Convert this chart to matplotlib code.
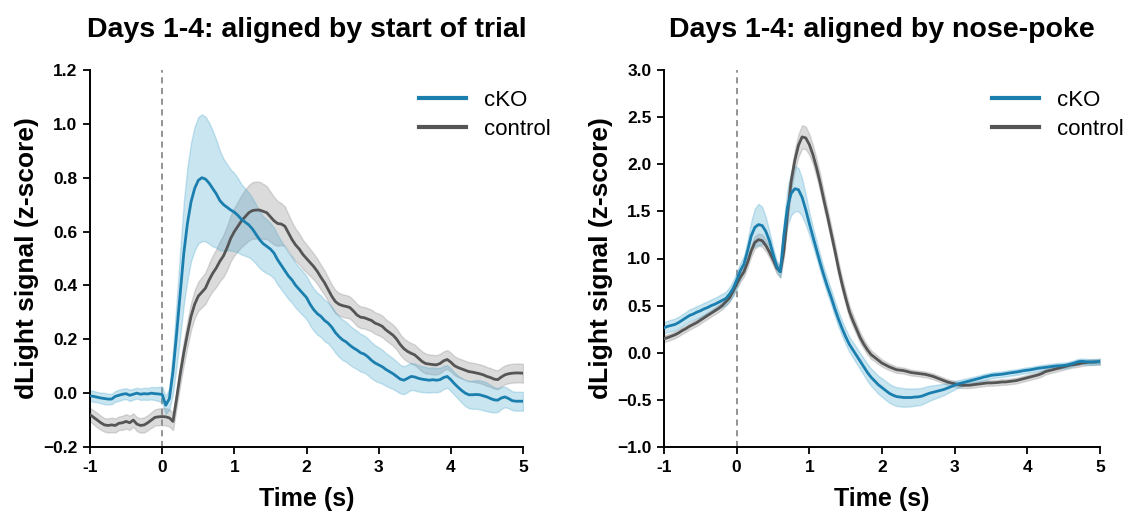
import numpy as np
import matplotlib
matplotlib.use("Agg")
import matplotlib.pyplot as plt

plt.rcParams["font.family"] = ["Liberation Sans", "DejaVu Sans"]

# Shared time base (s), 50 ms bins from -1 to 5
time_s = np.linspace(-1.0, 5.0, 121)

# ---- Aligned by start of trial ----
trial_cko_mean = [
    -0.010, -0.012, -0.015, -0.018, -0.020, -0.022, -0.022, -0.012, -0.008, -0.004,
    -0.002, -0.008, -0.004, 0.000, -0.004, -0.002, -0.003, 0.000, -0.002, -0.003,
    -0.005, -0.045, -0.020, 0.080, 0.220, 0.370, 0.520, 0.630, 0.710, 0.760,
    0.790, 0.800, 0.795, 0.780, 0.760, 0.740, 0.715, 0.700, 0.690, 0.680,
    0.672, 0.660, 0.645, 0.635, 0.625, 0.610, 0.590, 0.570, 0.555, 0.545,
    0.535, 0.520, 0.495, 0.475, 0.455, 0.435, 0.420, 0.400, 0.385, 0.370,
    0.355, 0.330, 0.310, 0.295, 0.285, 0.270, 0.260, 0.245, 0.225, 0.210,
    0.198, 0.190, 0.178, 0.168, 0.160, 0.150, 0.145, 0.135, 0.122, 0.112,
    0.105, 0.098, 0.088, 0.080, 0.072, 0.062, 0.052, 0.048, 0.055, 0.062,
    0.060, 0.055, 0.052, 0.050, 0.048, 0.050, 0.048, 0.050, 0.058, 0.062,
    0.050, 0.035, 0.022, 0.010, 0.000, -0.006, -0.006, -0.005, -0.006, -0.010,
    -0.014, -0.020, -0.025, -0.026, -0.018, -0.014, -0.020, -0.028, -0.030, -0.030,
    -0.030,
]
trial_cko_sem = [
    0.020, 0.020, 0.019, 0.020, 0.021, 0.020, 0.019, 0.020, 0.021, 0.020,
    0.020, 0.021, 0.020, 0.020, 0.021, 0.022, 0.022, 0.023, 0.024, 0.026,
    0.030, 0.032, 0.040, 0.080, 0.120, 0.160, 0.190, 0.210, 0.220, 0.230,
    0.235, 0.235, 0.232, 0.225, 0.215, 0.200, 0.185, 0.170, 0.160, 0.150,
    0.145, 0.138, 0.130, 0.125, 0.120, 0.115, 0.110, 0.105, 0.102, 0.100,
    0.097, 0.094, 0.092, 0.090, 0.088, 0.086, 0.085, 0.083, 0.082, 0.081,
    0.080, 0.079, 0.078, 0.078, 0.077, 0.077, 0.076, 0.076, 0.075, 0.075,
    0.075, 0.074, 0.073, 0.072, 0.071, 0.070, 0.069, 0.068, 0.067, 0.066,
    0.065, 0.063, 0.061, 0.059, 0.057, 0.055, 0.053, 0.052, 0.051, 0.050,
    0.050, 0.049, 0.048, 0.047, 0.046, 0.046, 0.045, 0.044, 0.043, 0.042,
    0.042, 0.042, 0.043, 0.045, 0.048, 0.050, 0.052, 0.053, 0.054, 0.054,
    0.053, 0.050, 0.047, 0.044, 0.041, 0.038, 0.036, 0.035, 0.035, 0.035,
    0.035,
]
trial_ctrl_mean = [
    -0.080, -0.090, -0.100, -0.110, -0.118, -0.120, -0.118, -0.120, -0.112, -0.110,
    -0.105, -0.110, -0.100, -0.115, -0.120, -0.118, -0.110, -0.100, -0.090, -0.088,
    -0.087, -0.088, -0.092, -0.105, -0.020, 0.070, 0.150, 0.220, 0.285, 0.330,
    0.360, 0.375, 0.390, 0.420, 0.445, 0.465, 0.490, 0.510, 0.540, 0.575,
    0.600, 0.620, 0.640, 0.655, 0.670, 0.678, 0.680, 0.680, 0.675, 0.670,
    0.655, 0.640, 0.630, 0.628, 0.620, 0.595, 0.570, 0.550, 0.535, 0.515,
    0.500, 0.485, 0.470, 0.452, 0.430, 0.410, 0.385, 0.360, 0.340, 0.330,
    0.325, 0.322, 0.318, 0.305, 0.290, 0.282, 0.280, 0.275, 0.270, 0.260,
    0.255, 0.248, 0.235, 0.225, 0.215, 0.200, 0.180, 0.165, 0.155, 0.148,
    0.142, 0.130, 0.118, 0.110, 0.108, 0.106, 0.105, 0.110, 0.120, 0.125,
    0.115, 0.102, 0.095, 0.090, 0.085, 0.080, 0.078, 0.075, 0.072, 0.068,
    0.062, 0.058, 0.052, 0.050, 0.060, 0.068, 0.072, 0.074, 0.075, 0.075,
    0.074,
]
trial_ctrl_sem = [
    0.025, 0.026, 0.027, 0.026, 0.025, 0.026, 0.027, 0.026, 0.025, 0.026,
    0.027, 0.026, 0.025, 0.026, 0.027, 0.028, 0.028, 0.029, 0.030, 0.031,
    0.032, 0.032, 0.032, 0.032, 0.035, 0.040, 0.045, 0.048, 0.050, 0.052,
    0.054, 0.056, 0.058, 0.062, 0.066, 0.070, 0.074, 0.078, 0.082, 0.085,
    0.088, 0.092, 0.096, 0.100, 0.103, 0.105, 0.106, 0.105, 0.102, 0.098,
    0.093, 0.088, 0.083, 0.078, 0.073, 0.068, 0.064, 0.060, 0.057, 0.054,
    0.052, 0.050, 0.048, 0.047, 0.046, 0.045, 0.044, 0.043, 0.043, 0.042,
    0.042, 0.042, 0.041, 0.041, 0.041, 0.040, 0.040, 0.040, 0.040, 0.040,
    0.040, 0.040, 0.039, 0.039, 0.039, 0.039, 0.038, 0.038, 0.038, 0.038,
    0.038, 0.037, 0.037, 0.037, 0.036, 0.036, 0.036, 0.036, 0.035, 0.035,
    0.035, 0.035, 0.035, 0.035, 0.035, 0.035, 0.035, 0.035, 0.035, 0.035,
    0.035, 0.035, 0.035, 0.035, 0.035, 0.035, 0.035, 0.035, 0.035, 0.035,
    0.035,
]

# ---- Aligned by nose-poke ----
poke_cko_mean = [
    0.265, 0.280, 0.290, 0.300, 0.320, 0.345, 0.370, 0.395, 0.410, 0.430,
    0.445, 0.465, 0.480, 0.500, 0.515, 0.535, 0.555, 0.575, 0.620, 0.680,
    0.770, 0.870, 0.940, 1.080, 1.240, 1.330, 1.360, 1.350, 1.290, 1.190,
    1.050, 0.920, 0.860, 1.250, 1.550, 1.690, 1.740, 1.730, 1.650, 1.520,
    1.370, 1.230, 1.090, 0.950, 0.820, 0.700, 0.590, 0.470, 0.360, 0.260,
    0.170, 0.090, 0.030, -0.030, -0.090, -0.150, -0.210, -0.260, -0.300, -0.340,
    -0.370, -0.400, -0.430, -0.450, -0.465, -0.470, -0.475, -0.475, -0.475, -0.470,
    -0.468, -0.460, -0.445, -0.430, -0.420, -0.410, -0.400, -0.390, -0.375, -0.360,
    -0.345, -0.330, -0.320, -0.310, -0.300, -0.290, -0.280, -0.270, -0.258, -0.250,
    -0.240, -0.235, -0.232, -0.228, -0.222, -0.215, -0.210, -0.205, -0.198, -0.190,
    -0.185, -0.180, -0.172, -0.165, -0.160, -0.155, -0.150, -0.145, -0.140, -0.138,
    -0.135, -0.130, -0.120, -0.108, -0.095, -0.090, -0.095, -0.098, -0.098, -0.095,
    -0.095,
]
poke_cko_sem = [
    0.060, 0.060, 0.061, 0.062, 0.062, 0.063, 0.063, 0.064, 0.064, 0.065,
    0.065, 0.066, 0.066, 0.067, 0.068, 0.069, 0.070, 0.072, 0.075, 0.080,
    0.085, 0.085, 0.085, 0.110, 0.150, 0.200, 0.220, 0.200, 0.150, 0.100,
    0.070, 0.055, 0.060, 0.150, 0.200, 0.230, 0.240, 0.230, 0.200, 0.160,
    0.120, 0.100, 0.090, 0.085, 0.082, 0.080, 0.080, 0.080, 0.080, 0.080,
    0.080, 0.080, 0.082, 0.084, 0.086, 0.088, 0.090, 0.092, 0.094, 0.096,
    0.098, 0.100, 0.100, 0.100, 0.100, 0.100, 0.098, 0.096, 0.094, 0.092,
    0.090, 0.088, 0.085, 0.080, 0.075, 0.070, 0.065, 0.060, 0.055, 0.050,
    0.045, 0.040, 0.038, 0.036, 0.035, 0.034, 0.033, 0.032, 0.032, 0.031,
    0.031, 0.030, 0.030, 0.030, 0.030, 0.030, 0.030, 0.030, 0.030, 0.030,
    0.030, 0.030, 0.030, 0.030, 0.030, 0.030, 0.030, 0.030, 0.030, 0.030,
    0.030, 0.030, 0.030, 0.030, 0.030, 0.030, 0.030, 0.030, 0.030, 0.030,
    0.030,
]
poke_ctrl_mean = [
    0.150, 0.160, 0.175, 0.190, 0.210, 0.235, 0.255, 0.280, 0.300, 0.320,
    0.345, 0.370, 0.395, 0.420, 0.445, 0.470, 0.500, 0.540, 0.580, 0.650,
    0.730, 0.800, 0.860, 0.960, 1.080, 1.170, 1.200, 1.190, 1.140, 1.070,
    0.990, 0.900, 0.860, 1.080, 1.480, 1.820, 2.040, 2.200, 2.290, 2.280,
    2.210, 2.100, 1.960, 1.800, 1.620, 1.450, 1.270, 1.090, 0.900, 0.730,
    0.580, 0.440, 0.340, 0.250, 0.160, 0.090, 0.030, -0.020, -0.050, -0.080,
    -0.110, -0.130, -0.150, -0.165, -0.180, -0.185, -0.190, -0.200, -0.210, -0.215,
    -0.220, -0.225, -0.230, -0.240, -0.250, -0.265, -0.280, -0.295, -0.310, -0.320,
    -0.330, -0.340, -0.345, -0.345, -0.345, -0.340, -0.335, -0.330, -0.325, -0.320,
    -0.320, -0.318, -0.315, -0.310, -0.310, -0.305, -0.300, -0.295, -0.285, -0.275,
    -0.265, -0.255, -0.245, -0.235, -0.220, -0.200, -0.190, -0.180, -0.170, -0.160,
    -0.150, -0.140, -0.130, -0.125, -0.120, -0.110, -0.105, -0.100, -0.100, -0.098,
    -0.095,
]
poke_ctrl_sem = [
    0.035, 0.035, 0.035, 0.035, 0.035, 0.035, 0.035, 0.035, 0.035, 0.035,
    0.035, 0.035, 0.035, 0.035, 0.036, 0.037, 0.038, 0.039, 0.040, 0.042,
    0.045, 0.048, 0.050, 0.055, 0.060, 0.065, 0.065, 0.065, 0.062, 0.060,
    0.058, 0.058, 0.060, 0.070, 0.085, 0.100, 0.110, 0.120, 0.125, 0.120,
    0.110, 0.100, 0.095, 0.090, 0.085, 0.080, 0.078, 0.075, 0.072, 0.070,
    0.068, 0.065, 0.062, 0.058, 0.055, 0.050, 0.048, 0.045, 0.042, 0.040,
    0.038, 0.036, 0.035, 0.034, 0.033, 0.032, 0.032, 0.031, 0.031, 0.030,
    0.030, 0.030, 0.030, 0.030, 0.030, 0.030, 0.030, 0.030, 0.030, 0.030,
    0.030, 0.030, 0.030, 0.030, 0.030, 0.030, 0.030, 0.030, 0.030, 0.030,
    0.030, 0.030, 0.030, 0.030, 0.030, 0.030, 0.030, 0.030, 0.030, 0.030,
    0.030, 0.030, 0.030, 0.030, 0.030, 0.030, 0.030, 0.030, 0.030, 0.030,
    0.030, 0.030, 0.030, 0.030, 0.030, 0.030, 0.030, 0.030, 0.030, 0.030,
    0.030,
]

group_labels = ["cKO", "control"]
panel_titles = ["Days 1-4: aligned by start of trial", "Days 1-4: aligned by nose-poke"]
x_ticks = [-1, 0, 1, 2, 3, 4, 5]
left_yticks = [-0.2, 0.0, 0.2, 0.4, 0.6, 0.8, 1.0, 1.2]
right_yticks = [-1.0, -0.5, 0.0, 0.5, 1.0, 1.5, 2.0, 2.5, 3.0]

CKO_LINE = "#1a7eae"
CKO_FILL = "#4fa9cf"
CTRL_LINE = "#555555"
CTRL_FILL = "#8a8a8a"

fig = plt.figure(figsize=(11.28, 5.16), dpi=100)
ax_l = fig.add_axes([90 / 1128, 69 / 516, 433 / 1128, 377 / 516])
ax_r = fig.add_axes([664 / 1128, 69 / 516, 436 / 1128, 377 / 516])

panels = [
    (ax_l, trial_cko_mean, trial_cko_sem, trial_ctrl_mean, trial_ctrl_sem,
     (-0.2, 1.2), left_yticks, 1.085),
    (ax_r, poke_cko_mean, poke_cko_sem, poke_ctrl_mean, poke_ctrl_sem,
     (-1.0, 3.0), right_yticks, 1.075),
]

for idx, (ax, km, ks, cm, cs, ylim, yticks, leg_x) in enumerate(panels):
    km, ks, cm, cs = map(np.asarray, (km, ks, cm, cs))
    ax.fill_between(time_s, cm - cs, cm + cs, facecolor=CTRL_FILL, alpha=0.3,
                    edgecolor=CTRL_FILL, linewidth=1.0, zorder=2)
    ax.fill_between(time_s, km - ks, km + ks, facecolor=CKO_FILL, alpha=0.3,
                    edgecolor=CKO_FILL, linewidth=1.0, zorder=2)
    ax.plot(time_s, cm, color=CTRL_LINE, linewidth=2.0, zorder=3, label=group_labels[1])
    ax.plot(time_s, km, color=CKO_LINE, linewidth=2.0, zorder=4, label=group_labels[0])
    ax.axvline(0, color="#777777", linestyle=(0, (4, 3)), linewidth=1.1, zorder=1)

    ax.set_xlim(-1, 5)
    ax.set_ylim(*ylim)
    ax.set_xticks(x_ticks)
    ax.set_xticklabels([str(t) for t in x_ticks])
    ax.set_yticks(yticks)
    ax.set_yticklabels(["{:.1f}".format(v).replace("-", "\u2212") for v in yticks])
    for s in ("top", "right"):
        ax.spines[s].set_visible(False)
    for s in ("left", "bottom"):
        ax.spines[s].set_linewidth(1.4)
        ax.spines[s].set_color("black")
    ax.tick_params(axis="both", direction="out", length=5, width=1.3,
                   labelsize=12.5, pad=4)
    for lab in ax.get_xticklabels() + ax.get_yticklabels():
        lab.set_fontweight("bold")

    ax.set_xlabel("Time (s)", fontsize=18, fontweight="bold", labelpad=9)
    ax.set_ylabel("dLight signal (z-score)", fontsize=19, fontweight="bold", labelpad=3)
    ax.set_title(panel_titles[idx], fontsize=20.5, fontweight="bold", pad=24)

    handles, labels = ax.get_legend_handles_labels()
    order = [labels.index(g) for g in group_labels]
    leg = ax.legend([handles[i] for i in order], [labels[i] for i in order],
                    loc="upper right", frameon=False, fontsize=16,
                    handlelength=2.15, handletextpad=0.8, labelspacing=0.35,
                    borderaxespad=0.0, bbox_to_anchor=(leg_x, 0.97))
    for line in leg.get_lines():
        line.set_linewidth(3.0)

fig.savefig("out.png", dpi=100)
